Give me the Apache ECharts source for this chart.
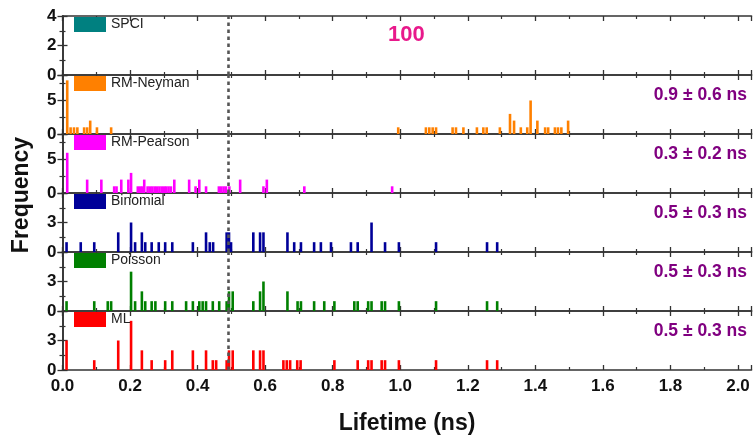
<!DOCTYPE html>
<html>
<head>
<meta charset="utf-8">
<script src="https://cdn.jsdelivr.net/npm/echarts@6/dist/echarts.min.js"></script>
<style>
  html, body { margin: 0; padding: 0; background: #ffffff; }
  #chart { width: 754px; height: 436px; }
</style>
</head>
<body>
<div id="chart"></div>
<script>
// Lifetime histograms, one panel per estimator: [lifetime (ns), frequency]
const panelNames = ['SPCI', 'RM-Neyman', 'RM-Pearson', 'Binomial', 'Poisson', 'ML'];
const panelColors = ['#008080', '#ff8000', '#ff00ff', '#000099', '#008000', '#ff0000'];

const spciBins = [];
const neymanBins = [
  [0.014, 8], [0.024, 1], [0.034, 1], [0.044, 1], [0.064, 1], [0.073, 1], [0.082, 2],
  [0.102, 1], [0.144, 1], [0.994, 1], [1.076, 1], [1.086, 1], [1.096, 1], [1.106, 1],
  [1.155, 1], [1.165, 1], [1.187, 1], [1.227, 1], [1.246, 1], [1.256, 1], [1.295, 1],
  [1.325, 3], [1.337, 2], [1.357, 1], [1.376, 1], [1.386, 5], [1.406, 2], [1.429, 1],
  [1.438, 1], [1.458, 1], [1.467, 1], [1.477, 1], [1.497, 2]
];
const pearsonBins = [
  [0.014, 6], [0.073, 2], [0.115, 2], [0.153, 1], [0.160, 1], [0.174, 2], [0.195, 2],
  [0.203, 3], [0.223, 1], [0.230, 1], [0.236, 1], [0.242, 2], [0.252, 1], [0.259, 1],
  [0.266, 1], [0.273, 1], [0.280, 1], [0.287, 1], [0.294, 1], [0.301, 1], [0.307, 1],
  [0.314, 1], [0.321, 1], [0.331, 2], [0.375, 2], [0.394, 1], [0.405, 2], [0.425, 1],
  [0.463, 1], [0.470, 1], [0.477, 1], [0.484, 1], [0.494, 1], [0.526, 2], [0.595, 1],
  [0.605, 2], [0.716, 1], [0.976, 1]
];
const binomialBins = [
  [0.012, 1], [0.054, 1], [0.094, 1], [0.165, 2], [0.203, 3], [0.215, 1], [0.235, 2],
  [0.245, 1], [0.264, 1], [0.285, 1], [0.304, 1], [0.325, 1], [0.386, 1], [0.425, 2],
  [0.436, 1], [0.446, 1], [0.486, 2], [0.493, 2], [0.499, 1], [0.565, 2], [0.585, 2],
  [0.595, 2], [0.666, 2], [0.686, 1], [0.706, 1], [0.745, 1], [0.765, 1], [0.795, 1],
  [0.854, 1], [0.874, 1], [0.915, 3], [0.955, 1], [0.996, 1], [1.106, 1], [1.257, 1],
  [1.287, 1]
];
const poissonBins = [
  [0.012, 1], [0.094, 1], [0.134, 1], [0.144, 1], [0.203, 4], [0.215, 1], [0.235, 2],
  [0.245, 1], [0.264, 1], [0.275, 1], [0.304, 1], [0.325, 1], [0.366, 1], [0.386, 1],
  [0.405, 1], [0.415, 1], [0.425, 1], [0.445, 1], [0.464, 1], [0.486, 1], [0.493, 2],
  [0.504, 2], [0.565, 1], [0.585, 2], [0.595, 3], [0.666, 2], [0.696, 1], [0.706, 1],
  [0.745, 1], [0.775, 1], [0.805, 1], [0.864, 1], [0.874, 1], [0.905, 1], [0.915, 1],
  [0.945, 1], [0.955, 1], [0.996, 1], [1.106, 1], [1.257, 1], [1.287, 1]
];
const mlBins = [
  [0.012, 3], [0.094, 1], [0.165, 3], [0.203, 5], [0.235, 2], [0.264, 1], [0.304, 1],
  [0.325, 2], [0.386, 2], [0.425, 2], [0.445, 1], [0.455, 1], [0.486, 1], [0.493, 2],
  [0.504, 2], [0.565, 2], [0.585, 2], [0.595, 2], [0.654, 1], [0.664, 1], [0.674, 1],
  [0.695, 1], [0.705, 1], [0.805, 1], [0.874, 1], [0.905, 1], [0.915, 1], [0.945, 1],
  [0.955, 1], [0.996, 1], [1.106, 1], [1.257, 1], [1.287, 1]
];
const panelBins = [spciBins, neymanBins, pearsonBins, binomialBins, poissonBins, mlBins];

// Frequency axis range and tick step for each panel
const yMax = [4, 8.8, 8.8, 6, 6, 6];
const yStep = [2, 5, 5, 3, 3, 3];

// Mean lifetime ± spread for each estimator
const lifetimeLabels = ['', '0.9 \u00b1 0.6 ns', '0.3 \u00b1 0.2 ns', '0.5 \u00b1 0.3 ns', '0.5 \u00b1 0.3 ns', '0.5 \u00b1 0.3 ns'];
const sampleCount = '100';
const referenceLifetime = 0.49;

// Lifetime axis
const xMin = 0, xMax = 2.04, xStep = 0.2;

const FONT = 'Arial, "Liberation Sans", Helvetica, sans-serif';
const AXIS_COLOR = '#333333';
const PANEL_TOP = 16, PANEL_H = 59, PLOT_LEFT = 62.5, PLOT_RIGHT = 2.5;

const grids = [], xAxes = [], yAxes = [], series = [], legends = [], graphics = [];

panelNames.forEach((name, i) => {
  const top = PANEL_TOP + PANEL_H * i;
  const isLast = i === panelNames.length - 1;
  grids.push({ left: PLOT_LEFT, right: PLOT_RIGHT, top: top, height: PANEL_H, containLabel: false });

  ['bottom', 'top'].forEach((pos) => {
    const showLabel = isLast && pos === 'bottom';
    xAxes.push({
      type: 'value', gridIndex: i, position: pos,
      min: xMin, max: xMax, interval: xStep,
      axisLine: { show: true, onZero: false, lineStyle: { color: AXIS_COLOR, width: 1.6 } },
      axisTick: { show: true, inside: true, length: 5, lineStyle: { color: AXIS_COLOR, width: 1.3 } },
      minorTick: { show: true, splitNumber: 2, length: 3, lineStyle: { color: AXIS_COLOR, width: 1.2 } },
      splitLine: { show: false },
      axisLabel: {
        show: showLabel, showMaxLabel: false, margin: 8,
        color: '#111', fontFamily: FONT, fontWeight: 'bold', fontSize: 17,
        formatter: (v) => v.toFixed(1)
      },
      name: showLabel ? 'Lifetime (ns)' : '',
      nameLocation: 'middle', nameGap: 42,
      nameTextStyle: { color: '#111', fontFamily: FONT, fontWeight: 'bold', fontSize: 23 }
    });
  });

  ['left', 'right'].forEach((pos) => {
    yAxes.push({
      type: 'value', gridIndex: i, position: pos,
      min: 0, max: yMax[i], interval: yStep[i],
      axisLine: { show: true, lineStyle: { color: AXIS_COLOR, width: 1.6 } },
      axisTick: { show: true, inside: true, length: 5, lineStyle: { color: AXIS_COLOR, width: 1.3 } },
      minorTick: { show: true, splitNumber: 2, length: 3, lineStyle: { color: AXIS_COLOR, width: 1.2 } },
      splitLine: { show: false },
      axisLabel: {
        show: pos === 'left', showMaxLabel: i === 0, margin: 6,
        color: '#111', fontFamily: FONT, fontWeight: 'bold', fontSize: 17
      }
    });
  });

  series.push({
    name: name, type: 'bar',
    xAxisIndex: 2 * i, yAxisIndex: 2 * i,
    data: panelBins[i],
    barWidth: 2.6,
    itemStyle: { color: panelColors[i] },
    silent: true,
    markLine: {
      silent: true, symbol: 'none',
      label: { show: false },
      lineStyle: { color: '#555555', width: 2.6, type: [3.5, 3.5] },
      data: [{ xAxis: referenceLifetime }]
    }
  });

  legends.push({
    data: [name], left: 74, top: top + 1,
    itemWidth: 32, itemHeight: 15, itemGap: 0, padding: 0,
    icon: 'rect', selectedMode: false,
    textStyle: { color: '#222', fontFamily: FONT, fontSize: 14, padding: [0, 0, 0, 0] }
  });

  if (lifetimeLabels[i]) {
    graphics.push({
      type: 'text', right: 7, top: top + 11,
      style: { text: lifetimeLabels[i], fill: '#800080', font: 'bold 17.5px ' + FONT }
    });
  }
});

graphics.push({
  type: 'text', left: 388, top: 24,
  style: { text: sampleCount, fill: '#e8198b', font: 'bold 22px ' + FONT }
});
graphics.push({
  type: 'text', x: 22, y: 195, rotation: Math.PI / 2,
  style: { text: 'Frequency', fill: '#111', font: 'bold 23px ' + FONT, align: 'center', verticalAlign: 'middle' }
});

const chart = echarts.init(document.getElementById('chart'), null, { renderer: 'canvas' });
chart.setOption({
  animation: false,
  backgroundColor: '#ffffff',
  grid: grids,
  xAxis: xAxes,
  yAxis: yAxes,
  legend: legends,
  series: series,
  graphic: graphics
});
</script>
</body>
</html>
